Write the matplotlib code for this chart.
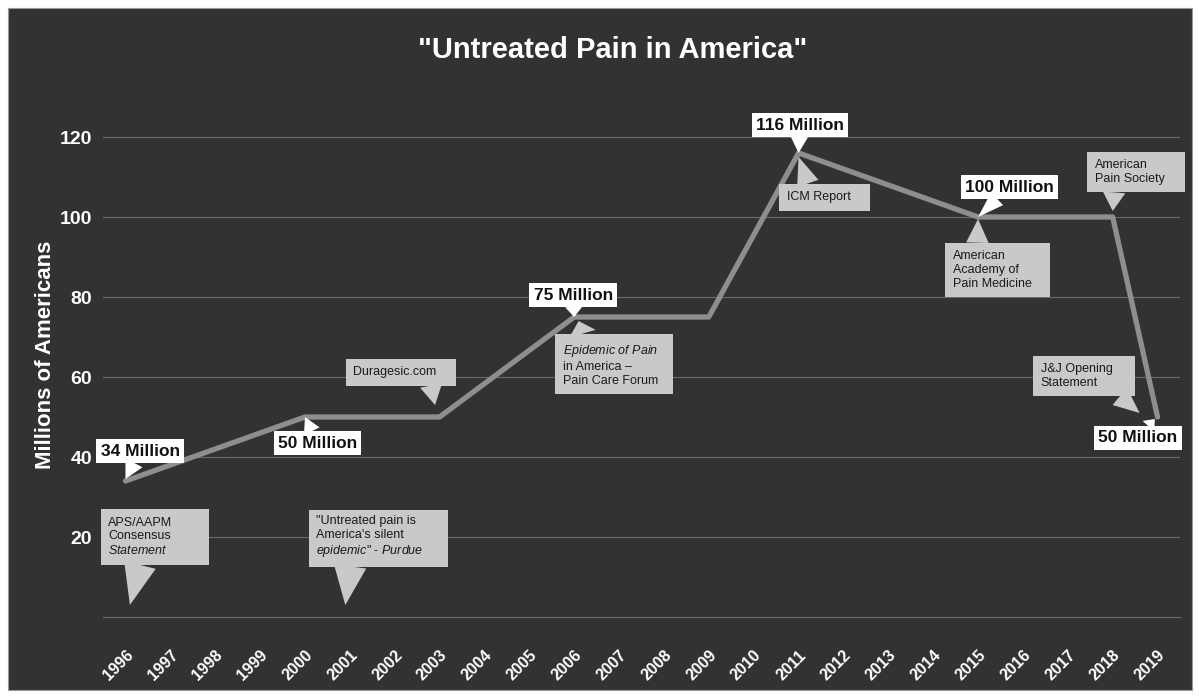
import numpy as np
import matplotlib
matplotlib.use("Agg")
import matplotlib.pyplot as plt
from matplotlib.patches import Rectangle
from matplotlib.path import Path

plt.rcParams['font.family'] = ['Liberation Sans', 'DejaVu Sans']
plt.rcParams['mathtext.fontset'] = 'custom'
plt.rcParams['mathtext.rm'] = 'Liberation Sans'
plt.rcParams['mathtext.it'] = 'Liberation Sans:italic'

# data
all_years = list(range(1996, 2020))
years = [1996, 2000, 2003, 2006, 2009, 2011, 2015, 2018, 2019]
millions = [34, 50, 50, 75, 75, 116, 100, 100, 50]
y_ticks = [20, 40, 60, 80, 100, 120]

bg = '#323232'
fig = plt.figure(figsize=(11.99, 6.96), dpi=100, facecolor='white')
fig.patches.append(Rectangle((8 / 1199, 6 / 696), 1184 / 1199, 682 / 696,
                             transform=fig.transFigure, fc=bg, ec='#999999',
                             lw=0.8, zorder=-10))

ax = fig.add_axes([103 / 1199, 79 / 696, 1077 / 1199, 520 / 696])
ax.set_facecolor('none')
ax.plot(years, millions, color='#8e8e8e', lw=3.8, solid_joinstyle='round',
        solid_capstyle='round', zorder=3)

ax.set_xlim(1995.5, 2019.5)
ax.set_ylim(0, 130)
ax.set_yticks(y_ticks)
ax.set_yticklabels([str(t) for t in y_ticks], color='white', fontsize=14,
                   fontweight='bold')
ax.set_xticks(all_years)
ax.set_xticklabels([str(y) for y in all_years], rotation=45, ha='right',
                   rotation_mode='anchor', color='white', fontsize=11.5,
                   fontweight='bold')
ax.tick_params(length=0, pad=8)
ax.tick_params(axis='x', pad=22)
ax.grid(axis='y', color='#6a6a6a', lw=0.8)
for s in ['top', 'right', 'left']:
    ax.spines[s].set_visible(False)
ax.spines['bottom'].set_color('#6a6a6a')

ax.set_ylabel('Millions of Americans', color='white', fontsize=16,
              fontweight='bold')
ax.yaxis.set_label_coords(-0.044, 0.505)
fig.text(0.511, 0.928, '"Untreated Pain in America"', color='white',
         fontsize=21, fontweight='bold', ha='center', va='center')


class WideBox:
    # square box with a minimum width in pixels, text stays left
    def __init__(self, pad, min_w):
        self.pad = pad
        self.min_w = min_w

    def __call__(self, x0, y0, width, height, mutation_size):
        p = self.pad * mutation_size
        x0, y0 = x0 - p, y0 - p
        w = max(width + 2 * p, self.min_w)
        h = height + 2 * p
        return Path([(x0, y0), (x0 + w, y0), (x0 + w, y0 + h), (x0, y0 + h),
                     (x0, y0)], closed=True)


def value_box(text, xy, xytext, tw=1.0):
    ax.annotate(text, xy=xy, xytext=xytext, ha='center', va='center',
                fontsize=12.5, fontweight='bold', color='#111111', zorder=5,
                bbox=dict(boxstyle='square,pad=0.25', fc='white', ec='none'),
                arrowprops=dict(arrowstyle='wedge,tail_width=%s' % tw,
                                fc='white', ec='none', shrinkA=0, shrinkB=0))


def note_box(text, xy, xytext, box_w, tw=2.0, relpos=(0.5, 0.5)):
    ax.annotate(text, xy=xy, xytext=xytext, ha='left', va='center',
                fontsize=9, color='#1a1a1a', zorder=5,
                bbox=dict(boxstyle=WideBox(0.6, box_w), fc='#c9c9c9',
                          ec='none'),
                arrowprops=dict(arrowstyle='wedge,tail_width=%s' % tw,
                                fc='#c9c9c9', ec='none', shrinkA=0,
                                shrinkB=0, relpos=relpos))


value_box('34 Million', (1996, 34.5), (1996.33, 41.5), tw=1.1)
note_box('APS/AAPM\nConsensus\n$\\mathit{Statement}$', (1996.1, 3),
         (1995.62, 20), 108, tw=2.6, relpos=(0.6, 0.5))
value_box('50 Million', (2000, 50), (2000.28, 43.5))
note_box('Duragesic.com', (2002.9, 53), (2001.08, 61.25), 110, tw=1.8,
         relpos=(0.9, 0.5))
note_box('"Untreated pain is\nAmerica\'s silent\n$\\mathit{epidemic}$" - $\\mathit{Purdue}$',
         (2000.9, 3), (2000.25, 20), 139, tw=2.6, relpos=(0.35, 0.5))
value_box('75 Million', (2006, 75), (2005.98, 80.5))
note_box('$\\mathit{Epidemic\\ of\\ Pain}$\nin America \u2013\nPain Care Forum',
         (2006.1, 74), (2005.75, 63), 118, tw=2.2, relpos=(0.3, 0.5))
value_box('116 Million', (2011, 116), (2011.03, 123))
note_box('ICM Report', (2011.0, 115), (2010.74, 105), 91, tw=1.8,
         relpos=(0.4, 0.5))
value_box('100 Million', (2015, 100), (2015.7, 107.5))
note_box('American\nAcademy of\nPain Medicine', (2015, 99.5),
         (2014.44, 86.75), 105, tw=1.8, relpos=(0.3, 0.5))
note_box('American\nPain Society', (2018, 101.5), (2017.6, 111.25), 98,
         tw=1.8, relpos=(0.3, 0.5))
note_box('J&J Opening\nStatement', (2018.6, 51), (2016.4, 60.25), 102,
         tw=1.8, relpos=(0.8, 0.4))
value_box('50 Million', (2018.94, 49.5), (2018.56, 44.75), tw=0.9)

fig.savefig('out.png', dpi=100, facecolor=fig.get_facecolor())
